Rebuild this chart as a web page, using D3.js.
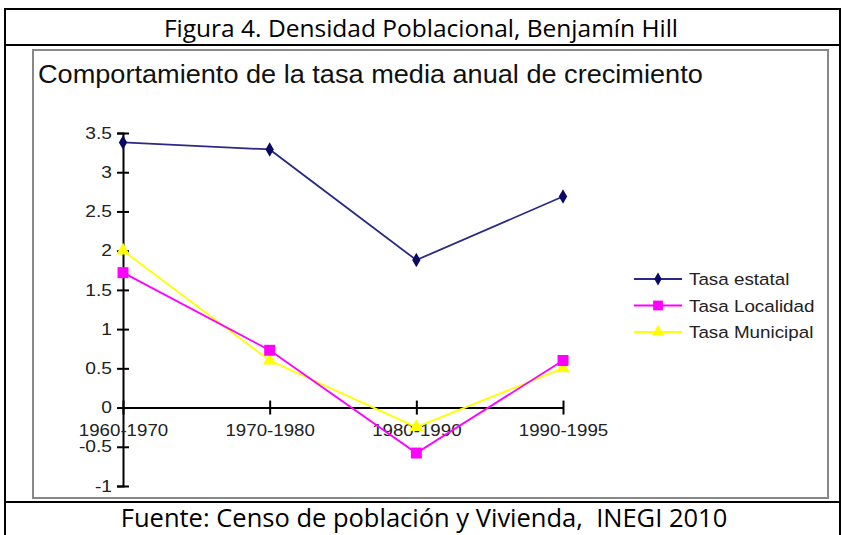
<!DOCTYPE html>
<html>
<head>
<meta charset="utf-8">
<script src="https://cdn.jsdelivr.net/npm/d3@7"></script>
<style>
  body { margin: 0; background: #fff; }
  svg { display: block; }
</style>
</head>
<body>
<div id="chart"></div>
<script>
// periods on the x axis
const periods = ["1960-1970", "1970-1980", "1980-1990", "1990-1995"];
const tasaEstatal = [3.38, 3.29, 1.88, 2.69];
const tasaLocalidad = [1.72, 0.73, -0.58, 0.60];
const tasaMunicipal = [2.0, 0.6, -0.25, 0.5];
const yTicks = [-1, -0.5, 0, 0.5, 1, 1.5, 2, 2.5, 3, 3.5];
const seriesNames = ["Tasa estatal", "Tasa Localidad", "Tasa Municipal"];

const width = 842, height = 535;
const arial = "'Liberation Sans', Arial, sans-serif";

const svg = d3.select("#chart").append("svg")
  .attr("width", width)
  .attr("height", height);

// outer table frame (figure caption + source)
const frame = svg.append("g").attr("stroke", "#000").attr("stroke-width", 2).attr("fill", "none");
frame.append("rect").attr("x", 5).attr("y", 9).attr("width", 835).attr("height", 540);
frame.append("line").attr("x1", 5).attr("x2", 840).attr("y1", 45).attr("y2", 45);
frame.append("line").attr("x1", 5).attr("x2", 840).attr("y1", 502).attr("y2", 502);

svg.append("text")
  .attr("x", 421).attr("y", 37)
  .attr("text-anchor", "middle")
  .style("font-family", "'Open Sans', sans-serif")
  .style("font-size", "24.5px")
  .text("Figura 4. Densidad Poblacional, Benjamín Hill");

svg.append("text")
  .attr("x", 424).attr("y", 527)
  .attr("text-anchor", "middle")
  .style("font-family", "'Open Sans', sans-serif")
  .style("font-size", "25.5px")
  .style("white-space", "pre")
  .text("Fuente: Censo de población y Vivienda,  INEGI 2010");

// inner chart picture frame
svg.append("rect")
  .attr("x", 33).attr("y", 50).attr("width", 795).attr("height", 448)
  .attr("fill", "#fff").attr("stroke", "#888").attr("stroke-width", 2);

// the pasted chart picture is a little stretched sideways
svg.append("text")
  .attr("transform", "translate(38,83) scale(1.085,1)")
  .style("font-family", arial)
  .style("font-size", "25px")
  .attr("fill", "#111")
  .text("Comportamiento de la tasa media anual de crecimiento");

const x = d3.scalePoint().domain(periods).range([123, 563]);
const y = d3.scaleLinear().domain([-1, 3.5]).range([486, 133]);

// y axis with crossing ticks
const yAxis = svg.append("g")
  .attr("transform", `translate(${x(periods[0])},0)`)
  .call(d3.axisLeft(y).tickValues(yTicks).tickSize(6).tickFormat(d => String(d)));
yAxis.select(".domain").attr("stroke-width", 2);
yAxis.selectAll(".tick line").attr("x2", 6).attr("x1", -6).attr("stroke-width", 2);
yAxis.selectAll(".tick text")
  .attr("x", -11 / 1.2)
  .attr("transform", "scale(1.2,1)")
  .style("font-family", arial)
  .style("font-size", "16px")
  .attr("fill", "#222");

// x axis at zero
const xAxis = svg.append("g")
  .attr("transform", `translate(0,${y(0)})`)
  .call(d3.axisBottom(x).tickSize(6).tickSizeOuter(0));
xAxis.select(".domain").attr("stroke-width", 2);
xAxis.selectAll(".tick line").attr("y1", -7).attr("y2", 7).attr("stroke-width", 2);
xAxis.selectAll(".tick text")
  .attr("y", 16)
  .attr("transform", "scale(1.1,1)")
  .style("font-family", arial)
  .style("font-size", "17px")
  .attr("fill", "#222");

const series = [
  { name: seriesNames[0], values: tasaEstatal, color: "#2a2a86", mark: "#0a0a66", symbol: d3.symbolDiamond, size: 60 },
  { name: seriesNames[1], values: tasaLocalidad, color: "#ff00ff", mark: "#ff00ff", symbol: d3.symbolSquare, size: 120 },
  { name: seriesNames[2], values: tasaMunicipal, color: "#ffff00", mark: "#ffff00", symbol: d3.symbolTriangle, size: 80 }
];

const line = d3.line().x((d, i) => x(periods[i])).y(d => y(d));

// draw municipal first so localidad sits on top like the original
[series[2], series[1], series[0]].forEach(s => {
  svg.append("path")
    .datum(s.values)
    .attr("d", line)
    .attr("fill", "none")
    .attr("stroke", s.color)
    .attr("stroke-width", 1.8);
  svg.selectAll(null)
    .data(s.values)
    .enter()
    .append("path")
    .attr("transform", (d, i) => `translate(${x(periods[i])},${y(d)})`)
    .attr("d", d3.symbol().type(s.symbol).size(s.size))
    .attr("fill", s.mark);
});

// legend
const legend = svg.append("g").attr("transform", "translate(634,279)");
series.forEach((s, i) => {
  const g = legend.append("g").attr("transform", `translate(0,${i * 26.5})`);
  g.append("line").attr("x1", 0).attr("x2", 48).attr("stroke", s.color).attr("stroke-width", 2);
  g.append("path")
    .attr("transform", "translate(24,0)")
    .attr("d", d3.symbol().type(s.symbol).size(s.size * 0.8))
    .attr("fill", s.mark);
  g.append("text")
    .attr("transform", "translate(55,6) scale(1.14,1)")
    .style("font-family", arial)
    .style("font-size", "16.5px")
    .attr("fill", "#222")
    .text(s.name);
});
</script>
</body>
</html>
